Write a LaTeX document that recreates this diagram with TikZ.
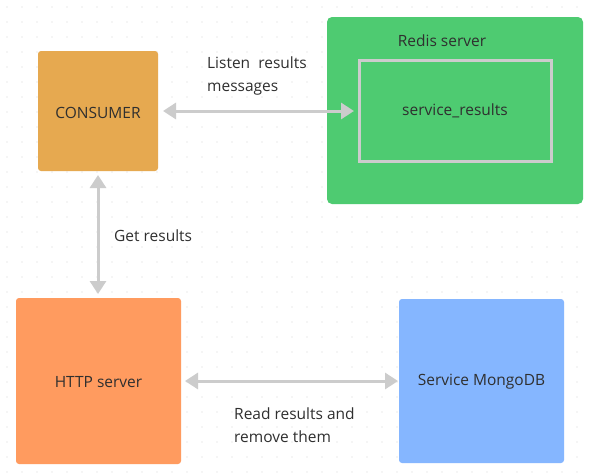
\documentclass[tikz,border=0pt]{standalone}
\usepackage{fontspec}
\setmainfont{Open Sans}
\usetikzlibrary{arrows.meta}
\definecolor{txt}{HTML}{2F2F2F}
\definecolor{dotc}{HTML}{D6D6D6}
\definecolor{arrc}{HTML}{CCCCCC}
\definecolor{consc}{HTML}{E6A950}
\definecolor{redisc}{HTML}{4ECB71}
\definecolor{httpc}{HTML}{FF9B5F}
\definecolor{mongoc}{HTML}{85B6FF}
\tikzset{
  txtf/.style={text=txt, font=\fontsize{15.5}{23}\selectfont},
  box/.style={txtf, inner sep=0pt},
  lbl/.style={txtf, align=left, inner sep=0pt, anchor=base west},
  conn/.style={draw=arrc, line width=3pt, {Triangle[length=13pt,width=16pt]}-{Triangle[length=13pt,width=16pt]}}
}
\begin{document}
\begin{tikzpicture}[x=1pt,y=-1pt]
\useasboundingbox[fill=white] (0,0) rectangle (589,472);
% dot grid
\foreach \i in {0,...,39}{
  \foreach \j in {0,...,31}{
    \fill[dotc] (7+15*\i,7+15*\j) circle (0.7pt);
  }
}
% boxes
\path[fill=consc, rounded corners=3pt] (38,51) rectangle (158,171);
\node[box, minimum width=120pt, minimum height=120pt] (cons) at (98,112.5) {CONSUMER};
\path[fill=redisc, rounded corners=5pt] (327,17) rectangle (583,204);
\node[box, minimum width=256pt, minimum height=187pt] (redis) at (455,110.5) {};
\node[box] (redislbl) at (442,41) {Redis server};
\node[box, draw=arrc, line width=3pt, minimum width=192pt, minimum height=101pt] (queue) at (455,111) {service\_results};
\path[fill=httpc, rounded corners=3pt] (16,298) rectangle (181,464);
\node[box, minimum width=165pt, minimum height=166pt] (http) at (98.5,382) {HTTP server};
\path[fill=mongoc, rounded corners=3pt] (399,299) rectangle (564,463);
\node[box, minimum width=165pt, minimum height=164pt] (mongo) at (481.5,382) {Service MongoDB};
% connectors
\coordinate (c1) at (163,111);
\coordinate (c2) at (354,111);
\draw[conn] (c1) -- (c2);
\coordinate (v1) at (98,175);
\coordinate (v2) at (98,294);
\draw[conn] (v1) -- (v2);
\coordinate (h1) at (185,381);
\coordinate (h2) at (398,381);
\draw[conn] (h1) -- (h2);
% labels
\node[lbl] (l1) at (207,91) {Listen\ \ results\\messages};
\node[lbl] (l2) at (114,241) {Get results};
\node[lbl] (l3) at (234,442) {Read results and\\remove them};
\end{tikzpicture}
\end{document}
